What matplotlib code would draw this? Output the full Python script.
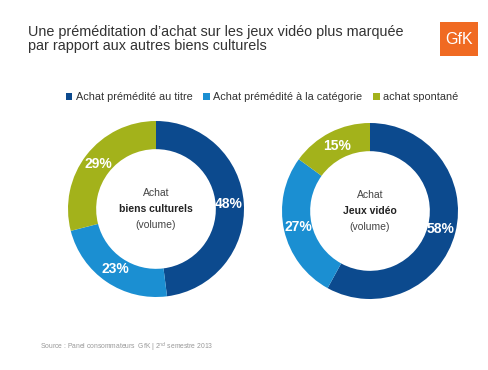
import matplotlib.pyplot as plt
from matplotlib.patches import Rectangle

plt.rcParams['font.family'] = ['Liberation Sans', 'DejaVu Sans']

categories = ["Achat prémédité au titre", "Achat prémédité à la catégorie", "achat spontané"]
colors = ["#0c4a8e", "#1b8fd2", "#a3b21b"]
culture_values = [48, 23, 29]
video_values = [58, 27, 15]
donut_titles = [("Achat", "biens culturels", "(volume)"), ("Achat", "Jeux vidéo", "(volume)")]

W, H = 488, 370
fig = plt.figure(figsize=(W / 100, H / 100), dpi=100)
fig.patch.set_facecolor("white")

fig.text(28 / W, 1 - 39 / H, "Une préméditation d’achat sur les jeux vidéo plus marquée\npar rapport aux autres biens culturels",
         fontsize=10.4, color="#333333", va="center", ha="left", linespacing=1.05)

# GfK logo
fig.patches.append(Rectangle((440 / W, 1 - 56 / H), 38 / W, 34 / H, transform=fig.transFigure,
                             facecolor="#f06a22", edgecolor="none"))
fig.text(459 / W, 1 - 40 / H, "GfK", fontsize=11.5, color="white", ha="center", va="center")


def donut(cx, cy, r, values, lines):
    ax = fig.add_axes([(cx - r) / W, 1 - (cy + r) / H, 2 * r / W, 2 * r / H])
    wedges, _, autotexts = ax.pie(values, colors=colors, startangle=90, counterclock=False,
                                  radius=1, autopct=lambda p: f"{round(p)}%", pctdistance=0.83,
                                  wedgeprops=dict(width=0.32, edgecolor="none"))
    for t in autotexts:
        t.set_color("white")
        t.set_fontsize(10)
        t.set_fontweight("bold")
    ax.text(0, 0.18, lines[0], ha="center", va="center", fontsize=7.5, color="#444444")
    ax.text(0, 0.0, lines[1], ha="center", va="center", fontsize=7.5, color="#222222", fontweight="bold")
    ax.text(0, -0.18, lines[2], ha="center", va="center", fontsize=7.5, color="#444444")
    ax.set_xlim(-1, 1)
    ax.set_ylim(-1, 1)
    ax.axis("off")
    return wedges


wedges = donut(156, 209, 88, culture_values, donut_titles[0])
donut(370, 211, 88, video_values, donut_titles[1])

fig.legend(wedges, categories, loc="center", bbox_to_anchor=(262 / W, 1 - 97 / H), ncol=3,
           frameon=False, fontsize=7.8, handlelength=0.6, handleheight=0.6, handletextpad=0.3,
           columnspacing=1.0, labelcolor="#333333")

fig.text(40 / W, 1 - 347 / H, "Source : Panel consommateurs  GfK | 2$^{nd}$ semestre 2013",
         fontsize=4.9, color="#999999", ha="left", va="center")

fig.savefig("out.png", dpi=100)
